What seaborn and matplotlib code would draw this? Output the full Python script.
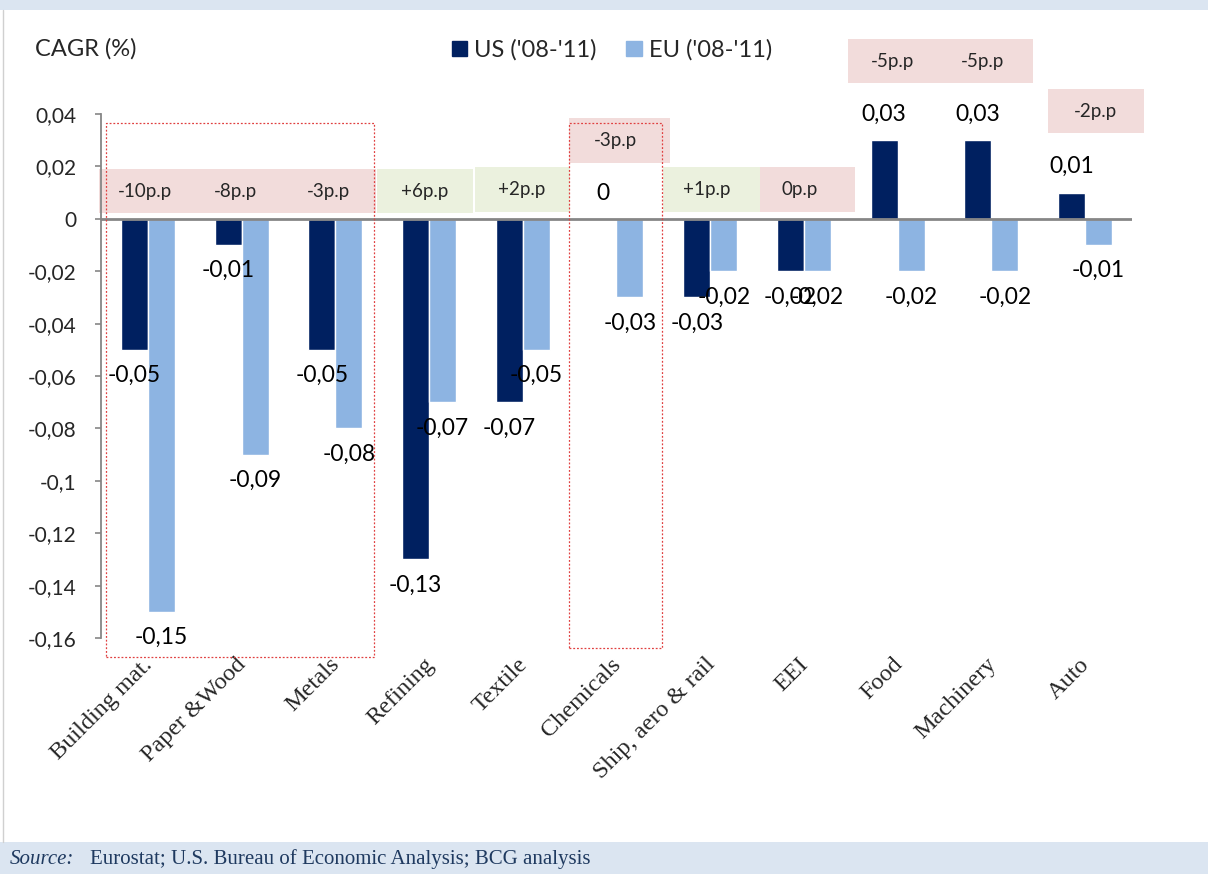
import matplotlib
matplotlib.use("Agg")
import matplotlib.pyplot as plt
import matplotlib.transforms as mtransforms
import seaborn as sns
import pandas as pd
from matplotlib.patches import Rectangle

sectors = ["Building mat.", "Paper &Wood", "Metals", "Refining", "Textile", "Chemicals",
           "Ship, aero & rail", "EEI", "Food", "Machinery", "Auto"]
series = ["US ('08-'11)", "EU ('08-'11)"]
us_cagr = [-0.05, -0.01, -0.05, -0.13, -0.07, 0.0, -0.03, -0.02, 0.03, 0.03, 0.01]
eu_cagr = [-0.15, -0.09, -0.08, -0.07, -0.05, -0.03, -0.02, -0.02, -0.02, -0.02, -0.01]
yticks = [0.04, 0.02, 0, -0.02, -0.04, -0.06, -0.08, -0.1, -0.12, -0.14, -0.16]
gap_notes = ["-10p.p", "-8p.p", "-3p.p", "+6p.p", "+2p.p", "-3p.p",
             "+1p.p", "0p.p", "-5p.p", "-5p.p", "-2p.p"]

NAVY = "#002060"
LIGHT = "#8DB4E2"
PINK = "#F2DCDB"
GREEN = "#EBF1DE"
BAND = "#DBE5F1"
GREY = "#868686"

sns.set_style("white")
plt.rcParams["font.family"] = ["Lato", "DejaVu Sans"]

W, H = 1208, 874
fig = plt.figure(figsize=(W / 100, H / 100), dpi=100)


def px_rect(x0, y0, x1, y1, **kw):
    r = Rectangle((x0 / W, 1 - y1 / H), (x1 - x0) / W, (y1 - y0) / H,
                  transform=fig.transFigure, **kw)
    fig.add_artist(r)
    return r


def fmt(v):
    return ("%g" % v).replace(".", ",")


# page frame
px_rect(0, 0, W, 10, facecolor=BAND, edgecolor="none", zorder=0)
px_rect(0, 842, W, H, facecolor=BAND, edgecolor="none", zorder=0)
fig.add_artist(plt.Line2D([3 / W, 3 / W], [1 - 842 / H, 1 - 10 / H],
                          transform=fig.transFigure, color="#D0D0D0", lw=1))

ax = fig.add_axes([101 / W, 1 - 638 / H, (1132 - 101) / W, (638 - 114) / H])

df = pd.DataFrame({
    "sector": sectors * 2,
    "series": [series[0]] * len(sectors) + [series[1]] * len(sectors),
    "cagr": us_cagr + eu_cagr,
})
sns.barplot(data=df, x="sector", y="cagr", hue="series", order=sectors,
            hue_order=series, palette=[NAVY, LIGHT], width=0.575,
            saturation=1, ax=ax, legend=False, zorder=3)

for cont, vals in zip(ax.containers, [us_cagr, eu_cagr]):
    ax.bar_label(cont, labels=[fmt(v) for v in vals], padding=11,
                 fontsize=16.5, color="black", zorder=6)

ax.set_xlim(-0.5, len(sectors) - 0.5)
ax.set_ylim(-0.16, 0.04)
ax.set_yticks(yticks)
ax.set_yticklabels([fmt(v) for v in yticks], fontsize=15)
ax.set_xlabel("")
ax.set_ylabel("")
ax.tick_params(axis="x", length=0, labelbottom=False)

# rotated serif category labels hanging below the plot
lab_trans = (mtransforms.blended_transform_factory(ax.transData, ax.transAxes)
             + mtransforms.ScaledTranslation(-6 / 100, -16 / 100, fig.dpi_scale_trans))
for i, name in enumerate(sectors):
    ax.text(i, 0, name, transform=lab_trans, rotation=45, ha="right", va="top",
            rotation_mode="anchor", fontsize=17.5, family=["Liberation Serif"])

ax.tick_params(axis="y", length=4.5, width=1.2, color=GREY, pad=13, left=True)
for s in ["top", "right", "bottom"]:
    ax.spines[s].set_visible(False)
ax.spines["left"].set_color(GREY)
ax.spines["left"].set_linewidth(1.3)
ax.axhline(0, color=GREY, lw=2, zorder=4)

# CAGR gap boxes
boxes = [
    (99, 169, 376, 213, PINK, [145, 235, 328]),
    (377, 169, 473, 213, GREEN, [425]),
    (475, 167, 570, 212, GREEN, [522]),
    (569, 118, 670, 163, PINK, [615]),
    (663, 167, 760, 212, GREEN, [707]),
    (760, 167, 855, 212, PINK, [800]),
    (848, 39, 1033, 83, PINK, [893, 983]),
    (1048, 89, 1144, 133, PINK, [1095]),
]
k = 0
for x0, y0, x1, y1, col, centers in boxes:
    px_rect(x0, y0, x1, y1, facecolor=col, edgecolor="none", zorder=1)
    for xc in centers:
        fig.text(xc / W, 1 - (y0 + y1) / 2 / H, gap_notes[k], fontsize=13.5,
                 ha="center", va="center", zorder=5)
        k += 1

# dotted highlight frames
px_rect(106, 123, 374, 657, facecolor="none", edgecolor="#E04040",
        lw=0.9, ls=(0, (1.5, 1.5)), zorder=7)
px_rect(569, 123, 662, 648, facecolor="none", edgecolor="#E04040",
        lw=0.9, ls=(0, (1.5, 1.5)), zorder=7)

ax.patch.set_alpha(0)
ax.set_zorder(2)

fig.text(35 / W, 1 - 49 / H, "CAGR (%)", fontsize=17, va="center", ha="left")

handles = [Rectangle((0, 0), 1, 1, color=c) for c in [NAVY, LIGHT]]
fig.legend(handles, series, loc="center", bbox_to_anchor=(612 / W, 1 - 50 / H),
           ncol=2, frameon=False, fontsize=17, handlelength=0.65,
           handleheight=0.65, handletextpad=0.3, columnspacing=1.25)

src_col = "#1F3A60"
fig.text(10 / W, 1 - 859 / H, "Source:", fontsize=15, style="italic",
         family=["Liberation Serif"], va="center", color=src_col)
fig.text(90 / W, 1 - 859 / H,
         "Eurostat; U.S. Bureau of Economic Analysis; BCG analysis",
         fontsize=15, family=["Liberation Serif"], va="center", color=src_col)

fig.savefig("out.png", dpi=100)
